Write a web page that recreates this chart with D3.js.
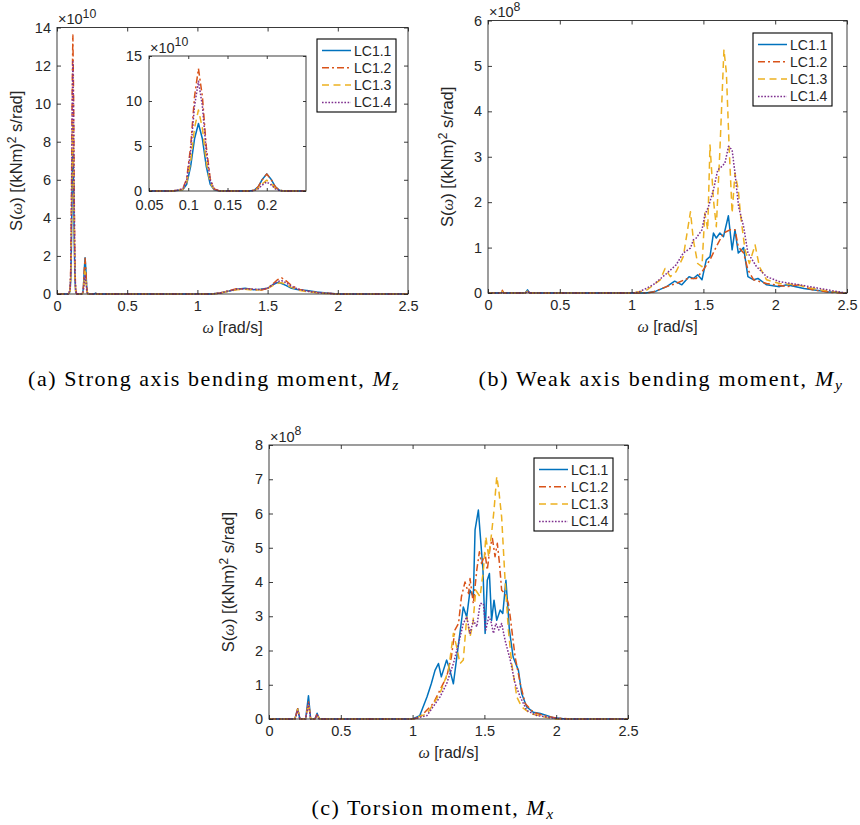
<!DOCTYPE html>
<html><head><meta charset="utf-8">
<script src="https://cdn.jsdelivr.net/npm/d3@7"></script>
<style>body{margin:0;background:#fff}</style>
</head><body>
<svg id="chart" width="860" height="825"></svg>
<script>
// ---------------- data ----------------
const seriesNames = ["LC1.1", "LC1.2", "LC1.3", "LC1.4"];

// (a) Strong axis bending moment, units 1e10
const aLC11 = [[0,0],[0.08,0],[0.093,0.13],[0.098,0.75],[0.103,2.7],[0.108,5.8],[0.113,7.5],[0.118,5.8],[0.123,2.7],[0.128,0.75],[0.133,0.13],[0.14,0],[0.178,0],[0.184,0.09],[0.189,0.46],[0.194,1.24],[0.2,1.9],[0.206,1.24],[0.211,0.46],[0.216,0.09],[0.222,0],[0.265,0],[0.275,0.04],[0.285,0],[1.1,0],[1.16,0.05],[1.22,0.15],[1.28,0.25],[1.34,0.3],[1.4,0.22],[1.45,0.25],[1.5,0.3],[1.54,0.5],[1.57,0.6],[1.6,0.55],[1.63,0.45],[1.67,0.3],[1.72,0.22],[1.78,0.18],[1.85,0.1],[1.92,0.05],[2.0,0],[2.5,0]];
const aLC12 = [[0,0],[0.08,0],[0.093,0.23],[0.098,1.36],[0.103,4.9],[0.108,10.5],[0.113,13.6],[0.118,10.5],[0.123,4.9],[0.128,1.36],[0.133,0.23],[0.14,0],[0.178,0],[0.184,0.09],[0.189,0.45],[0.194,1.22],[0.2,1.88],[0.206,1.22],[0.211,0.45],[0.216,0.09],[0.222,0],[0.265,0],[0.275,0.03],[0.285,0],[1.1,0],[1.16,0.05],[1.22,0.17],[1.28,0.28],[1.34,0.25],[1.4,0.25],[1.45,0.2],[1.5,0.3],[1.54,0.55],[1.57,0.75],[1.6,0.85],[1.63,0.7],[1.67,0.45],[1.72,0.25],[1.78,0.15],[1.85,0.08],[1.92,0.04],[2.0,0],[2.5,0]];
const aLC13 = [[0,0],[0.08,0],[0.093,0.15],[0.098,0.9],[0.103,3.24],[0.108,7.0],[0.113,9.0],[0.118,7.0],[0.123,3.24],[0.128,0.9],[0.133,0.15],[0.14,0],[0.178,0],[0.184,0.06],[0.189,0.29],[0.194,0.78],[0.2,1.2],[0.206,0.78],[0.211,0.29],[0.216,0.06],[0.222,0],[0.265,0],[0.275,0.03],[0.285,0],[1.1,0],[1.16,0.04],[1.22,0.14],[1.28,0.22],[1.34,0.25],[1.4,0.2],[1.45,0.22],[1.5,0.28],[1.54,0.45],[1.57,0.55],[1.6,0.6],[1.63,0.5],[1.67,0.35],[1.72,0.2],[1.78,0.12],[1.85,0.06],[1.92,0.03],[2.0,0],[2.5,0]];
const aLC14 = [[0,0],[0.08,0],[0.093,0.21],[0.098,1.22],[0.103,4.4],[0.108,9.45],[0.113,12.2],[0.118,9.45],[0.123,4.4],[0.128,1.22],[0.133,0.21],[0.14,0],[0.178,0],[0.184,0.05],[0.189,0.24],[0.194,0.65],[0.2,1.0],[0.206,0.65],[0.211,0.24],[0.216,0.05],[0.222,0],[0.265,0],[0.275,0.03],[0.285,0],[1.1,0],[1.16,0.05],[1.22,0.15],[1.28,0.25],[1.34,0.28],[1.4,0.25],[1.45,0.23],[1.5,0.3],[1.54,0.5],[1.57,0.65],[1.6,0.7],[1.63,0.6],[1.67,0.4],[1.72,0.25],[1.78,0.15],[1.85,0.08],[1.92,0.04],[2.0,0],[2.5,0]];

// (b) Weak axis bending moment, units 1e8
const bLC11 = [[0,0],[0.09,0],[0.1,0.02],[0.11,0],[0.26,0],[0.275,0.07],[0.29,0],[1.1,0],[1.17,0.04],[1.244,0.14],[1.3,0.26],[1.35,0.18],[1.4,0.36],[1.43,0.32],[1.46,0.4],[1.49,0.29],[1.52,0.73],[1.546,0.8],[1.57,1.32],[1.59,1.21],[1.615,1.32],[1.64,1.24],[1.674,1.7],[1.70,0.95],[1.72,1.39],[1.743,0.88],[1.766,0.95],[1.78,1.0],[1.81,0.36],[1.85,0.29],[1.88,0.32],[1.94,0.18],[2.03,0.14],[2.08,0.18],[2.2,0.1],[2.36,0.03],[2.5,0]];
const bLC12 = [[0,0],[0.09,0],[0.1,0.06],[0.11,0],[0.26,0],[0.275,0.04],[0.29,0],[1.1,0],[1.15,0.02],[1.244,0.14],[1.31,0.21],[1.39,0.32],[1.45,0.32],[1.5,0.51],[1.546,0.73],[1.59,1.02],[1.64,1.32],[1.685,1.39],[1.72,1.39],[1.743,1.02],[1.78,0.88],[1.81,0.51],[1.85,0.29],[1.94,0.21],[2.08,0.14],[2.17,0.18],[2.26,0.07],[2.4,0.01],[2.5,0]];
const bLC13 = [[0,0],[0.09,0],[0.1,0.03],[0.11,0],[0.26,0],[0.275,0.04],[0.29,0],[1.0,0],[1.1,0.05],[1.2,0.29],[1.233,0.54],[1.27,0.36],[1.31,0.47],[1.36,0.8],[1.41,1.79],[1.43,1.17],[1.46,0.65],[1.49,0.58],[1.51,1.76],[1.53,1.39],[1.546,3.26],[1.57,2.05],[1.59,1.46],[1.615,3.15],[1.643,5.36],[1.66,4.85],[1.68,3.15],[1.70,1.76],[1.72,2.64],[1.743,2.27],[1.76,1.68],[1.79,0.95],[1.82,0.65],[1.86,1.06],[1.89,0.58],[1.94,0.29],[2.03,0.21],[2.15,0.18],[2.2,0.14],[2.31,0.07],[2.45,0.01],[2.5,0]];
const bLC14 = [[0,0],[0.09,0],[0.1,0.03],[0.11,0],[0.26,0],[0.275,0.04],[0.29,0],[1.0,0],[1.05,0.02],[1.15,0.18],[1.244,0.43],[1.31,0.62],[1.36,0.88],[1.41,0.99],[1.43,1.17],[1.45,1.21],[1.49,1.39],[1.51,1.72],[1.535,1.9],[1.57,2.27],[1.60,2.71],[1.63,2.79],[1.65,2.86],[1.675,3.23],[1.70,3.15],[1.72,2.64],[1.745,1.9],[1.78,1.46],[1.81,0.88],[1.87,0.58],[1.94,0.36],[2.03,0.25],[2.17,0.18],[2.31,0.1],[2.47,0.01],[2.5,0]];

// (c) Torsion moment, units 1e8
const cLC11 = [[0,0],[0.18,0],[0.2,0.3],[0.215,0],[0.255,0],[0.275,0.68],[0.29,0],[0.32,0],[0.335,0.17],[0.35,0],[1.0,0],[1.05,0.1],[1.10,0.64],[1.13,1.03],[1.156,1.42],[1.18,1.62],[1.20,1.23],[1.237,1.72],[1.26,1.42],[1.284,1.03],[1.32,2.2],[1.353,3.27],[1.377,2.98],[1.40,3.76],[1.423,3.57],[1.435,5.52],[1.458,6.1],[1.474,5.22],[1.49,4.35],[1.505,2.5],[1.52,4.05],[1.535,4.25],[1.55,2.88],[1.567,3.47],[1.586,2.88],[1.61,3.18],[1.628,3.08],[1.65,4.05],[1.674,2.6],[1.70,1.81],[1.737,1.42],[1.76,0.74],[1.795,0.35],[1.84,0.2],[1.89,0.16],[1.98,0.04],[2.07,0],[2.5,0]];
const cLC12 = [[0,0],[0.18,0],[0.2,0.3],[0.215,0],[0.255,0],[0.275,0.5],[0.29,0],[0.32,0],[0.335,0.15],[0.35,0],[1.0,0],[1.05,0.05],[1.144,0.45],[1.19,0.84],[1.237,1.23],[1.27,1.81],[1.295,2.6],[1.32,2.79],[1.34,3.57],[1.365,4.0],[1.39,3.66],[1.40,4.1],[1.423,3.37],[1.447,4.35],[1.465,4.88],[1.48,4.54],[1.505,4.83],[1.52,4.35],[1.54,5.03],[1.556,5.27],[1.574,4.74],[1.59,5.13],[1.605,4.54],[1.62,3.76],[1.644,3.66],[1.667,3.37],[1.68,2.98],[1.714,1.81],[1.75,1.03],[1.784,0.45],[1.84,0.2],[1.91,0.1],[2.0,0.03],[2.1,0],[2.5,0]];
const cLC13 = [[0,0],[0.18,0],[0.2,0.28],[0.215,0],[0.255,0],[0.275,0.45],[0.29,0],[0.32,0],[0.335,0.12],[0.35,0],[1.0,0],[1.1,0.15],[1.19,0.74],[1.25,1.42],[1.284,2.5],[1.307,2.1],[1.33,1.62],[1.353,1.72],[1.377,2.98],[1.40,2.4],[1.42,2.79],[1.44,3.76],[1.47,3.57],[1.493,4.35],[1.51,5.32],[1.53,4.74],[1.55,5.42],[1.567,6.1],[1.586,7.08],[1.60,6.69],[1.62,5.9],[1.644,4.05],[1.667,2.6],[1.69,1.62],[1.726,0.64],[1.76,0.35],[1.82,0.16],[1.935,0.04],[2.0,0],[2.5,0]];
const cLC14 = [[0,0],[0.18,0],[0.2,0.25],[0.215,0],[0.255,0],[0.275,0.45],[0.29,0],[0.32,0],[0.335,0.12],[0.35,0],[1.0,0],[1.1,0.1],[1.19,0.64],[1.237,1.03],[1.284,1.62],[1.32,2.2],[1.353,2.79],[1.377,2.98],[1.40,2.5],[1.423,2.88],[1.447,2.69],[1.47,3.37],[1.493,3.37],[1.51,2.6],[1.53,2.98],[1.544,2.88],[1.563,2.5],[1.58,2.79],[1.60,2.6],[1.62,2.79],[1.644,2.3],[1.68,1.72],[1.714,1.03],[1.75,0.64],[1.795,0.25],[1.865,0.1],[1.96,0.04],[2.05,0],[2.5,0]];

const xTicksMain = [0, 0.5, 1, 1.5, 2, 2.5];
const aYTicks = [0, 2, 4, 6, 8, 10, 12, 14];
const bYTicks = [0, 1, 2, 3, 4, 5, 6];
const cYTicks = [0, 1, 2, 3, 4, 5, 6, 7, 8];
const insetXTicks = [0.05, 0.1, 0.15, 0.2];
const insetYTicks = [0, 5, 10, 15];

// ---------------- styles ----------------
const colors = ["#0072BD", "#D95319", "#EDB120", "#7E2F8E"];
const dashes = [null, "7,3,2,3", "7,4.5", "1.6,1.6"];
const axisColor = "#262626";
const sansFont = "'Liberation Sans', Arial, sans-serif";
const serifFont = "'Liberation Serif', 'Times New Roman', serif";

const svg = d3.select("#chart");
let clipId = 0;

function drawAxes(g, x, y, xt, yt, opt) {
  const [x0, x1] = x.range(), [y0, y1] = y.range();
  const tl = opt.tickLen;
  const fs = opt.fontSize;
  g.append("rect").attr("x", x0).attr("y", y1).attr("width", x1 - x0).attr("height", y0 - y1)
    .attr("fill", "none").attr("stroke", axisColor).attr("stroke-width", 0.9);
  const styleAxis = sel => {
    sel.select(".domain").remove();
    sel.selectAll(".tick line").attr("stroke", axisColor).attr("stroke-width", 0.9);
    sel.selectAll(".tick text").attr("fill", axisColor).attr("font-family", sansFont).attr("font-size", fs);
  };
  g.append("g").attr("transform", `translate(0,${y0})`)
    .call(d3.axisBottom(x).tickValues(xt).tickSize(-tl).tickPadding(opt.xPad).tickFormat(String)).call(styleAxis);
  g.append("g").attr("transform", `translate(0,${y1})`)
    .call(d3.axisTop(x).tickValues(xt).tickSize(-tl).tickFormat("")).call(styleAxis);
  g.append("g").attr("transform", `translate(${x0},0)`)
    .call(d3.axisLeft(y).tickValues(yt).tickSize(-tl).tickPadding(opt.yPad).tickFormat(String)).call(styleAxis);
  g.append("g").attr("transform", `translate(${x1},0)`)
    .call(d3.axisRight(y).tickValues(yt).tickSize(-tl).tickFormat("")).call(styleAxis);
  const e = g.append("text").attr("x", x0 + 1).attr("y", y1 - 3.5)
    .attr("fill", axisColor).attr("font-family", sansFont).attr("font-size", fs);
  e.append("tspan").text("\u00d710");
  e.append("tspan").attr("dy", -6.5).attr("font-size", fs * 0.85).text(opt.exponent);
}

function drawLines(g, x, y, datasets) {
  const [x0, x1] = x.range(), [y0, y1] = y.range();
  const id = "clip" + (clipId++);
  g.append("clipPath").attr("id", id).append("rect")
    .attr("x", x0).attr("y", y1 - 1).attr("width", x1 - x0).attr("height", y0 - y1 + 2);
  const line = d3.line().x(d => x(d[0])).y(d => y(d[1]));
  const lg = g.append("g").attr("clip-path", `url(#${id})`);
  datasets.forEach((ds, i) => {
    lg.append("path").attr("d", line(ds)).attr("fill", "none")
      .attr("stroke", colors[i]).attr("stroke-width", 1.5)
      .attr("stroke-linejoin", "round")
      .attr("stroke-dasharray", dashes[i]);
  });
}

function drawLegend(g, bx, by) {
  const lg = g.append("g").attr("transform", `translate(${bx},${by})`);
  lg.append("rect").attr("width", 79).attr("height", 73).attr("fill", "#fff")
    .attr("stroke", "#000").attr("stroke-width", 1.1);
  seriesNames.forEach((n, i) => {
    const yy = 11.5 + i * 17.3;
    lg.append("line").attr("x1", 5).attr("x2", 34).attr("y1", yy).attr("y2", yy)
      .attr("stroke", colors[i]).attr("stroke-width", 1.5).attr("stroke-dasharray", dashes[i]);
    lg.append("text").attr("x", 37).attr("y", yy + 5).attr("font-family", sansFont)
      .attr("font-size", 14).attr("fill", axisColor).text(n);
  });
}

function yLabel(g, cx, cy) {
  const t = g.append("text").attr("transform", `translate(${cx},${cy}) rotate(-90)`)
    .attr("text-anchor", "middle").attr("font-family", sansFont).attr("font-size", 16.5).attr("fill", axisColor);
  t.append("tspan").text("S(");
  t.append("tspan").attr("font-family", serifFont).attr("font-style", "italic").text("\u03c9");
  t.append("tspan").text(") [(kNm)");
  t.append("tspan").attr("dy", -6.5).attr("font-size", 12).text("2");
  t.append("tspan").attr("dy", 6.5).text(" s/rad]");
}

function xLabel(g, cx, by) {
  const t = g.append("text").attr("x", cx).attr("y", by).attr("text-anchor", "middle")
    .attr("font-family", sansFont).attr("font-size", 16).attr("fill", axisColor);
  t.append("tspan").attr("font-family", serifFont).attr("font-style", "italic").text("\u03c9");
  t.append("tspan").text(" [rad/s]");
}

function caption(g, cx, by, pre, sub, targetWidth) {
  const t = g.append("text").attr("x", cx).attr("y", by).attr("text-anchor", "middle")
    .attr("font-family", serifFont).attr("font-size", 22).attr("fill", "#000");
  t.append("tspan").text(pre);
  t.append("tspan").attr("font-style", "italic").text("M");
  t.append("tspan").attr("font-style", "italic").attr("font-size", 15.5).attr("dy", 4).text(sub);
  const len = t.node().getComputedTextLength();
  const n = (pre + "M" + sub).length;
  const ls = Math.max(0, (targetWidth - len) / n);
  t.attr("letter-spacing", ls.toFixed(2));
}

function panel(cfg) {
  const g = svg.append("g");
  const x = d3.scaleLinear().domain([0, 2.5]).range([cfg.left, cfg.right]);
  const y = d3.scaleLinear().domain([cfg.yTicks[0], cfg.yTicks[cfg.yTicks.length - 1]]).range([cfg.bottom, cfg.top]);
  drawLines(g, x, y, cfg.data);
  drawAxes(g, x, y, xTicksMain, cfg.yTicks, {tickLen: 4, fontSize: 14.5, xPad: 7, yPad: 6, exponent: cfg.exponent});
  if (cfg.inset) {
    const ins = cfg.inset;
    const xi = d3.scaleLinear().domain([0.05, 0.25]).range([ins.left, ins.right]);
    const yi = d3.scaleLinear().domain([0, 15]).range([ins.bottom, ins.top]);
    const gi = g.append("g");
    gi.append("rect").attr("x", ins.left).attr("y", ins.top).attr("width", ins.right - ins.left)
      .attr("height", ins.bottom - ins.top).attr("fill", "#fff");
    drawLines(gi, xi, yi, cfg.data);
    drawAxes(gi, xi, yi, insetXTicks, insetYTicks, {tickLen: 3, fontSize: 14.5, xPad: 9, yPad: 7, exponent: cfg.exponent});
  }
  drawLegend(g, cfg.legend[0], cfg.legend[1]);
  yLabel(g, cfg.left - 35, (cfg.top + cfg.bottom) / 2);
  xLabel(g, (cfg.left + cfg.right) / 2, cfg.bottom + 39);
}

panel({left: 57, right: 408, top: 27.5, bottom: 294, yTicks: aYTicks, exponent: "10",
  data: [aLC11, aLC12, aLC13, aLC14], legend: [317, 39],
  inset: {left: 149, right: 306, top: 56, bottom: 191}});
panel({left: 488, right: 847, top: 20.5, bottom: 293, yTicks: bYTicks, exponent: "8",
  data: [bLC11, bLC12, bLC13, bLC14], legend: [753, 33]});
panel({left: 269, right: 628, top: 445, bottom: 719, yTicks: cYTicks, exponent: "8",
  data: [cLC11, cLC12, cLC13, cLC14], legend: [534, 458]});

caption(svg, 214, 386, "(a) Strong axis bending moment, ", "z", 372);
caption(svg, 661, 386, "(b) Weak axis bending moment, ", "y", 365);
caption(svg, 433, 815, "(c) Torsion moment, ", "x", 243);
</script>
</body></html>
